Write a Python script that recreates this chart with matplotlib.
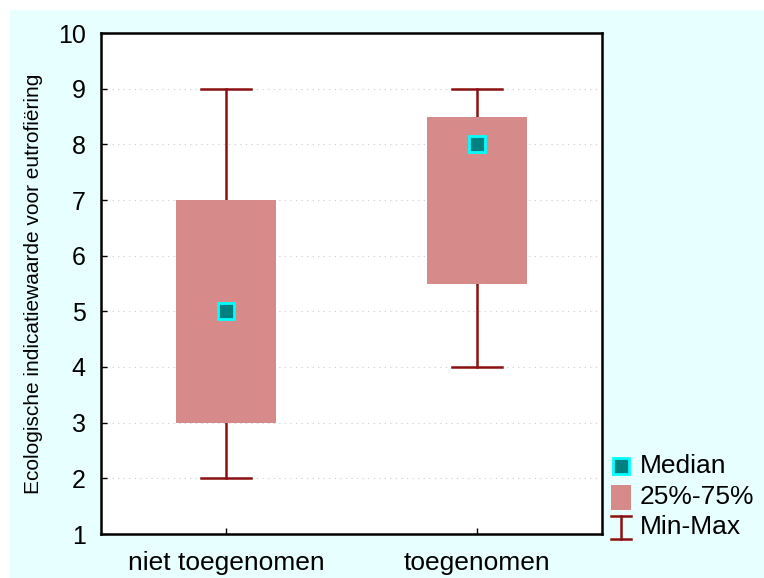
import matplotlib.pyplot as plt
from matplotlib.patches import Rectangle
from matplotlib.lines import Line2D

plt.rcParams['font.family'] = ['Liberation Sans', 'DejaVu Sans']

# data
categories = ["niet toegenomen", "toegenomen"]
minimum = [2, 4]
q1 = [3, 5.5]
median = [5, 8]
q3 = [7, 8.5]
maximum = [9, 9]
yticks = [1, 2, 3, 4, 5, 6, 7, 8, 9, 10]

box_col = "#D78A8A"
whisk_col = "#8B1010"
med_face = "#008080"
med_edge = "#00FFFF"
bg = "#E8FFFF"

W, H = 764, 578
fig = plt.figure(figsize=(W / 100, H / 100), dpi=100)
fig.patch.set_facecolor("white")
# light cyan panel (leaves a thin white margin top/left)
fig.add_artist(Rectangle((10 / W, 0), 1, 1 - 10 / H, transform=fig.transFigure,
                         facecolor=bg, edgecolor="none", zorder=-10))

ax = fig.add_axes([101 / W, 1 - 534 / H, 501 / W, 501 / H])
ax.set_facecolor("white")

pos = [1, 2]
bw = 0.4
cw = 0.2
for i, x in enumerate(pos):
    # whiskers
    ax.plot([x, x], [minimum[i], q1[i]], color=whisk_col, lw=1.8, zorder=2)
    ax.plot([x, x], [q3[i], maximum[i]], color=whisk_col, lw=1.8, zorder=2)
    ax.plot([x - cw / 2, x + cw / 2], [minimum[i]] * 2, color=whisk_col, lw=1.8, zorder=2)
    ax.plot([x - cw / 2, x + cw / 2], [maximum[i]] * 2, color=whisk_col, lw=1.8, zorder=2)
    # box
    ax.add_patch(Rectangle((x - bw / 2, q1[i]), bw, q3[i] - q1[i],
                           facecolor=box_col, edgecolor="none", zorder=3))
    # median
    ax.plot(x, median[i], marker="s", ms=11, mfc=med_face, mec=med_edge, mew=2, zorder=4)

ax.set_xlim(0.5, 2.5)
ax.set_ylim(1, 10)
ax.set_xticks(pos)
ax.set_xticklabels(categories, fontsize=19)
ax.set_yticks(yticks)
ax.tick_params(direction="in", length=4, width=1, color="black")
ax.tick_params(axis="y", labelsize=18, pad=11)
ax.tick_params(axis="x", pad=12)
ax.yaxis.grid(True, linestyle=(0, (1, 4)), color="#cccccc", lw=0.8)
ax.set_axisbelow(True)
for s in ax.spines.values():
    s.set_linewidth(1.8)
    s.set_color("black")

fig.text(34 / W, 1 - 284 / H, "Ecologische indicatiewaarde voor eutrofiëring",
         rotation=90, ha="center", va="center", fontsize=15)

# legend drawn by hand
def fx(px):
    return px / W

def fy(py):
    return 1 - py / H

fig.add_artist(Line2D([fx(621)], [fy(466)], marker="s", ms=11, mfc=med_face,
                      mec=med_edge, mew=2, transform=fig.transFigure))
fig.add_artist(Rectangle((fx(611), fy(510)), 20 / W, 25 / H, transform=fig.transFigure,
                         facecolor=box_col, edgecolor="none"))
fig.add_artist(Line2D([fx(621), fx(621)], [fy(516), fy(539)], color=whisk_col, lw=1.8,
                      transform=fig.transFigure))
fig.add_artist(Line2D([fx(611), fx(631)], [fy(516), fy(516)], color=whisk_col, lw=1.8,
                      transform=fig.transFigure))
fig.add_artist(Line2D([fx(611), fx(631)], [fy(539), fy(539)], color=whisk_col, lw=1.8,
                      transform=fig.transFigure))
for lab, py in [("Median", 466), ("25%-75%", 497), ("Min-Max", 527)]:
    fig.text(fx(640), fy(py), lab, ha="left", va="center", fontsize=19)

fig.savefig("out.png", dpi=100, facecolor=fig.get_facecolor())
